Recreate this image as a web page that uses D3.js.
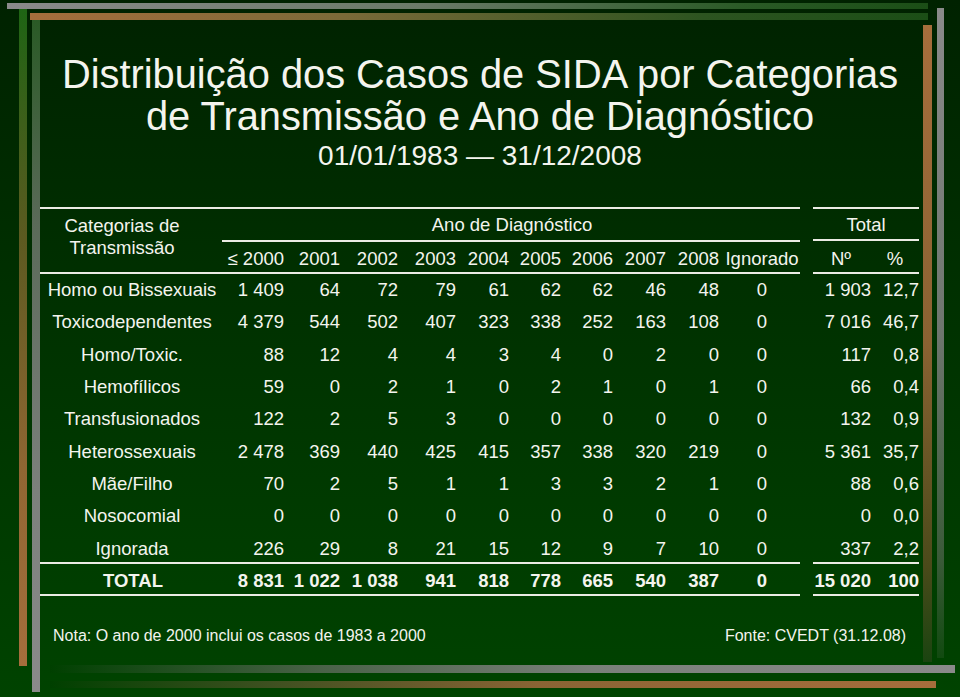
<!DOCTYPE html>
<html><head><meta charset="utf-8">
<script src="https://cdn.jsdelivr.net/npm/d3@7"></script>
<style>html,body{margin:0;padding:0;background:#003300;}svg{display:block;}</style>
</head><body>
<script>
// ---- DATA ----
const titleLines = ["Distribuição dos Casos de SIDA por Categorias", "de Transmissão e Ano de Diagnóstico"];
const subtitle = "01/01/1983 — 31/12/2008";
const columns = ["≤ 2000", "2001", "2002", "2003", "2004", "2005", "2006", "2007", "2008", "Ignorado"];
const categories = ["Homo ou Bissexuais", "Toxicodependentes", "Homo/Toxic.", "Hemofílicos", "Transfusionados", "Heterossexuais", "Mãe/Filho", "Nosocomial", "Ignorada"];
const counts = [
  [1409, 64, 72, 79, 61, 62, 62, 46, 48, 0],
  [4379, 544, 502, 407, 323, 338, 252, 163, 108, 0],
  [88, 12, 4, 4, 3, 4, 0, 2, 0, 0],
  [59, 0, 2, 1, 0, 2, 1, 0, 1, 0],
  [122, 2, 5, 3, 0, 0, 0, 0, 0, 0],
  [2478, 369, 440, 425, 415, 357, 338, 320, 219, 0],
  [70, 2, 5, 1, 1, 3, 3, 2, 1, 0],
  [0, 0, 0, 0, 0, 0, 0, 0, 0, 0],
  [226, 29, 8, 21, 15, 12, 9, 7, 10, 0]
];
const totalN = [1903, 7016, 117, 66, 132, 5361, 88, 0, 337];
const totalPct = [12.7, 46.7, 0.8, 0.4, 0.9, 35.7, 0.6, 0.0, 2.2];
const columnTotals = [8831, 1022, 1038, 941, 818, 778, 665, 540, 387, 0];
const grandTotalN = 15020;
const grandTotalPct = 100;
const totalLabel = "TOTAL";
const headerCategory = ["Categorias de", "Transmissão"];
const headerYears = "Ano de Diagnóstico";
const headerTotal = "Total";
const headerN = "Nº";
const headerPct = "%";
const note = "Nota: O ano de 2000 inclui os casos de 1983 a 2000";
const source = "Fonte: CVEDT (31.12.08)";

// ---- RENDER ----
const W = 960, H = 697;
const FONT = "'Liberation Sans', Arial, sans-serif";
const TXT = "#f4f4ee";
const LINE = "#ebebe4";
const svg = d3.select("body").append("svg").attr("width", W).attr("height", H);
const defs = svg.append("defs");

function grad(id, x1, y1, x2, y2, stops) {
  const g = defs.append("linearGradient").attr("id", id)
    .attr("x1", x1).attr("y1", y1).attr("x2", x2).attr("y2", y2);
  stops.forEach(s => g.append("stop").attr("offset", s[0]).attr("stop-color", s[1]));
}
grad("bg", 0, 0, 0, 1, [[0, "#002200"], [0.5, "#003300"], [1, "#004300"]]);
const GRAY = "#8a8a8a", ORANGE = "#a66e3c";
grad("topGray", 0, 0, 1, 0, [[0, GRAY], [0.45, "#6a7a68"], [0.8, "#2a5a26"], [1, "#1b4e16"]]);
grad("topOrange", 0, 0, 1, 0, [[0, ORANGE], [0.35, "#7a6a38"], [0.75, "#2c5420"], [1, "#1b4e16"]]);
grad("leftOuter", 0, 0, 0, 1, [[0, "#1e6414"], [0.35, "#5c5a20"], [0.7, "#8f6632"], [1, ORANGE]]);
grad("leftInner", 0, 0, 0, 1, [[0, "#2a5a26"], [0.3, "#5a6a58"], [0.7, "#7c807c"], [1, GRAY]]);
grad("rightOrange", 0, 0, 0, 1, [[0, ORANGE], [0.5, "#8a6232"], [0.85, "#4a4a1a"], [1, "#1a4410"]]);
grad("rightGray", 0, 0, 0, 1, [[0, GRAY], [0.5, "#6e766e"], [0.85, "#3a5a38"], [1, "#114a10"]]);
grad("botGray", 0, 0, 1, 0, [[0, "#004000"], [0.3, "#4a6248"], [0.6, "#7a807a"], [1, GRAY]]);
grad("botOrange", 0, 0, 1, 0, [[0, "#004000"], [0.25, "#3e5020"], [0.55, "#8a6434"], [1, ORANGE]]);

svg.append("rect").attr("width", W).attr("height", H).attr("fill", "url(#bg)");

const deco = svg.append("g");
const bars = [
  {x: 50, y: 665, w: 905, h: 8, f: "botGray"},
  {x: 50, y: 681, w: 886, h: 7, f: "botOrange"},
  {x: 7, y: 3, w: 921, h: 6, f: "topGray"},
  {x: 30, y: 13, w: 898, h: 7, f: "topOrange"},
  {x: 19, y: 9, w: 8, h: 657, f: "leftOuter"},
  {x: 32, y: 20, w: 8, h: 672, f: "leftInner"},
  {x: 923, y: 25, w: 9, h: 637, f: "rightOrange"},
  {x: 937, y: 8, w: 7, h: 650, f: "rightGray"}
];
deco.selectAll("rect").data(bars).join("rect")
  .attr("x", d => d.x).attr("y", d => d.y).attr("width", d => d.w).attr("height", d => d.h)
  .attr("fill", d => `url(#${d.f})`);

// Title
svg.selectAll("text.title").data(titleLines).join("text").attr("class", "title")
  .attr("x", 480).attr("y", (d, i) => 88 + i * 42)
  .attr("text-anchor", "middle").attr("font-family", FONT).attr("font-size", 39.8)
  .attr("fill", TXT).text(d => d);
svg.append("text").attr("x", 480).attr("y", 165).attr("text-anchor", "middle")
  .attr("font-family", FONT).attr("font-size", 28).attr("fill", TXT).text(subtitle);

// Scales
const fmtLocale = d3.formatLocale({decimal: ",", thousands: " ", grouping: [3], currency: ["", ""]});
const fmtInt = fmtLocale.format(",d");
const fmtPct = v => v === 100 ? "100" : fmtLocale.format(".1f")(v);

const xCol = d3.scaleOrdinal().domain(columns).range([284, 340, 398, 456, 509, 561, 613, 666, 719, 762]);
const anchorCol = c => c === "Ignorado" ? "middle" : "end";
const yRow = d3.scaleLinear().domain([0, categories.length]).range([296, 587]);
const xCat = 132, xN = 871, xPct = 919;

const t = svg.append("g").attr("font-family", FONT).attr("fill", TXT).attr("font-size", 18.5);

// Rules
const rules = [
  [40, 800, 208], [813, 919, 208],
  [222, 800, 241], [813, 919, 240],
  [40, 800, 273], [813, 919, 273],
  [40, 800, 563], [813, 919, 563],
  [40, 800, 595], [813, 919, 595]
];
svg.append("g").selectAll("line").data(rules).join("line")
  .attr("x1", d => d[0]).attr("x2", d => d[1]).attr("y1", d => d[2]).attr("y2", d => d[2])
  .attr("stroke", LINE).attr("stroke-width", 2);

// Header text
t.selectAll("text.hcat").data(headerCategory).join("text").attr("class", "hcat")
  .attr("x", 122).attr("y", (d, i) => 232 + i * 22).attr("text-anchor", "middle").text(d => d);
t.append("text").attr("x", 512).attr("y", 231).attr("text-anchor", "middle").text(headerYears);
t.append("text").attr("x", 866).attr("y", 231).attr("text-anchor", "middle").text(headerTotal);
t.selectAll("text.hcol").data(columns).join("text").attr("class", "hcol")
  .attr("x", d => xCol(d)).attr("y", 265).attr("text-anchor", anchorCol).text(d => d);
t.append("text").attr("x", 841).attr("y", 265).attr("text-anchor", "middle").text(headerN);
t.append("text").attr("x", 895).attr("y", 265).attr("text-anchor", "middle").text(headerPct);

// Body rows
const rowsG = t.selectAll("g.row").data(categories).join("g").attr("class", "row")
  .attr("transform", (d, i) => `translate(0,${yRow(i)})`);
rowsG.append("text").attr("x", xCat).attr("text-anchor", "middle").text(d => d);
rowsG.each(function(d, i) {
  d3.select(this).selectAll("text.v").data(counts[i].map((v, j) => ({v, c: columns[j]})))
    .join("text").attr("class", "v")
    .attr("x", e => xCol(e.c)).attr("text-anchor", e => anchorCol(e.c)).text(e => fmtInt(e.v));
  d3.select(this).append("text").attr("x", xN).attr("text-anchor", "end").text(fmtInt(totalN[i]));
  d3.select(this).append("text").attr("x", xPct).attr("text-anchor", "end").text(fmtPct(totalPct[i]));
});

// Total row
const tot = t.append("g").attr("font-weight", "bold")
  .attr("transform", `translate(0,${yRow(categories.length)})`);
tot.append("text").attr("x", xCat + 1).attr("text-anchor", "middle").text(totalLabel);
tot.selectAll("text.v").data(columnTotals.map((v, j) => ({v, c: columns[j]}))).join("text")
  .attr("class", "v").attr("x", e => xCol(e.c)).attr("text-anchor", e => anchorCol(e.c)).text(e => fmtInt(e.v));
tot.append("text").attr("x", xN).attr("text-anchor", "end").text(fmtInt(grandTotalN));
tot.append("text").attr("x", xPct).attr("text-anchor", "end").text(fmtPct(grandTotalPct));

// Footer
t.append("text").attr("x", 53).attr("y", 641).attr("font-size", 16).text(note);
t.append("text").attr("x", 906).attr("y", 641).attr("font-size", 16).attr("text-anchor", "end").text(source);
</script>
</body></html>
